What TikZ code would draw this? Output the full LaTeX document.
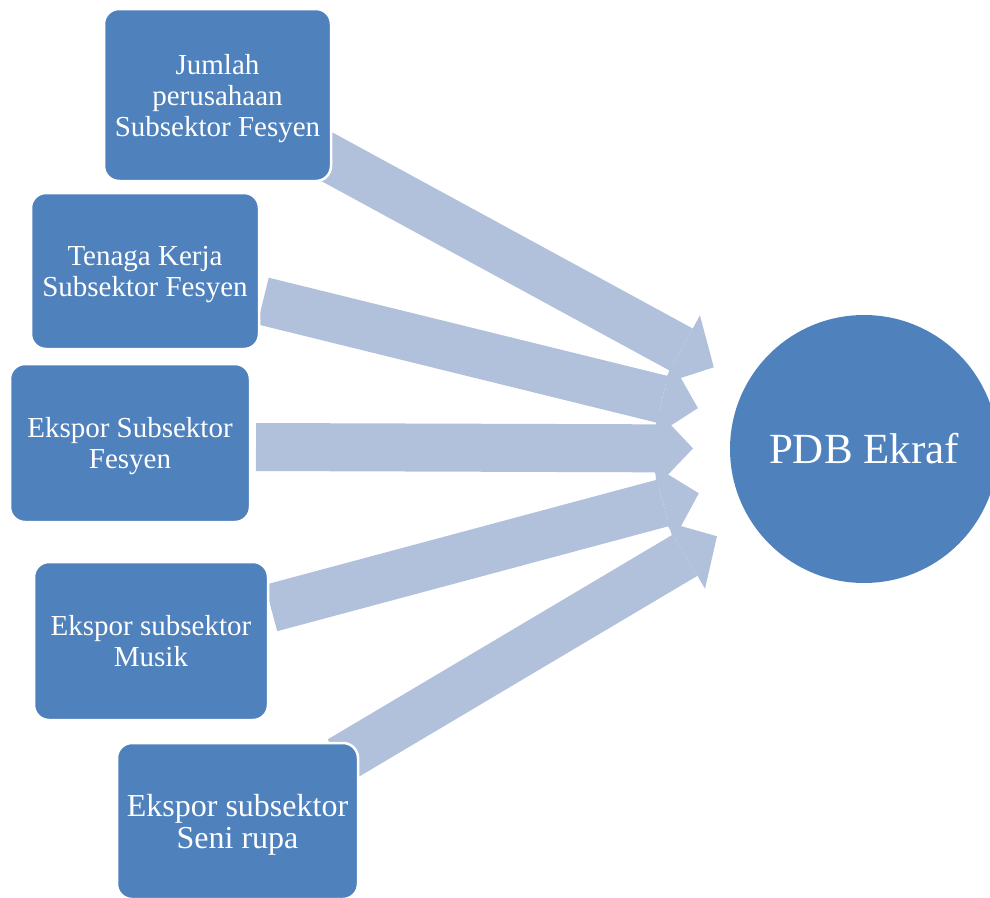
\documentclass[tikz,border=0pt]{standalone}
\usepackage{fontspec}
\setmainfont{Liberation Serif}
\usetikzlibrary{arrows.meta}
\definecolor{boxblue}{RGB}{79,129,189}
\definecolor{arrowblue}{RGB}{177,193,220}

\begin{document}
\begin{tikzpicture}[x=1pt, y=-1pt,
  factor/.style={rounded corners=15pt, fill=boxblue, draw=white, line width=2.5pt,
    text=white, align=center, inner sep=0pt, text depth=0pt,
    font=\fontsize{29}{31}\selectfont},
  flow/.style={draw=arrowblue, line width=48pt,
    -{Triangle[length=37pt, width=78pt, line width=0pt]}, shorten >=171pt}]
\useasboundingbox (0,0) rectangle (990,897);

\node[circle, fill=boxblue, minimum size=268pt, inner sep=0pt, text=white,
  font=\fontsize{43}{48}\selectfont] (pdb) at (864,449) {PDB Ekraf};

  % tails of the arrows
  \coordinate (t1) at (320,153);
  \coordinate (t2) at (263,301);
  \coordinate (t3) at (256,447);
  \coordinate (t4) at (271,608);
  \coordinate (t5) at (340,760);

    \foreach \i in {1, ..., 5} {%
      % Arrows
      \draw[flow] (t\i) -- (pdb.center);
    }

  \node[factor, minimum width=227pt, minimum height=172pt] (jumlah) at (217.5,95)
    {Jumlah\\perusahaan\\Subsektor Fesyen};
  \node[factor, minimum width=228pt, minimum height=156pt] (tenaga) at (145,271)
    {Tenaga Kerja\\Subsektor Fesyen};
  \node[factor, minimum width=240pt, minimum height=158pt] (fesyen) at (130,443)
    {Ekspor Subsektor\\Fesyen};
  \node[factor, minimum width=234pt, minimum height=158pt] (musik) at (151,641)
    {Ekspor subsektor\\Musik};
  \node[factor, minimum width=241pt, minimum height=156pt,
    font=\fontsize{32}{32}\selectfont] (senirupa) at (237.5,821)
    {Ekspor subsektor\\Seni rupa};
\end{tikzpicture}
\end{document}
